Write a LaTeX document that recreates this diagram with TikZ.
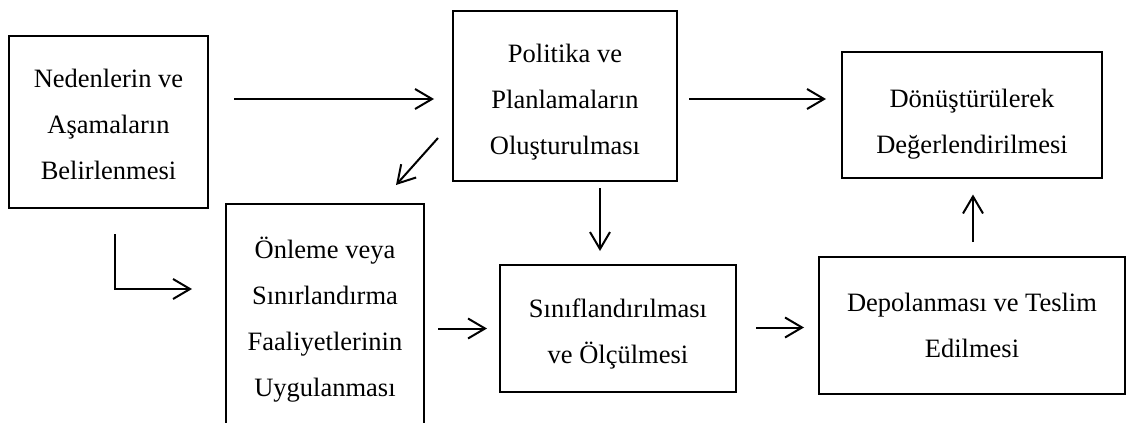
\documentclass[tikz,border=0pt]{standalone}
\usepackage{fontspec}
\setmainfont{Liberation Serif}
\usepackage{tikz}
\usetikzlibrary{arrows.meta, positioning, calc}

\newcommand{\lift}[1]{\rule{0pt}{#1}}

\tikzset{
  stage/.style={draw=black, line width=1pt, align=center, inner sep=0pt,
    font=\fontsize{13.25}{23}\selectfont},
  flow/.style={line width=1pt, -{Straight Barb[length=8.5pt,width=10pt]}}
}

\begin{document}
\begin{tikzpicture}[x=0.5pt, y={(0pt,-0.5pt)}]
\useasboundingbox (0,0) rectangle (1126,423);

% boxes
\node[stage, minimum width=99.5pt, minimum height=86pt] (nedenler) at (108.5,122)
  {\lift{12pt}Nedenlerin ve\\ Aşamaların\\ Belirlenmesi};
\node[stage, minimum width=112pt, minimum height=85pt] (politika) at (565,96)
  {\lift{15.5pt}Politika ve\\ Planlamaların\\ Oluşturulması};
\node[stage, minimum width=130pt, minimum height=63pt] (donusum) at (972,114.5)
  {\lift{18.5pt}Dönüştürülerek\\ Değerlendirilmesi};
\node[stage, minimum width=99pt, minimum height=112pt] (onleme) at (325,316)
  {\lift{14.5pt}Önleme veya\\ Sınırlandırma\\ Faaliyetlerinin\\ Uygulanması};
\node[stage, minimum width=118pt, minimum height=63.5pt] (sinif) at (618,328.5)
  {\lift{15pt}Sınıflandırılması\\ ve Ölçülmesi};
\node[stage, minimum width=153pt, minimum height=68.5pt] (depo) at (972,325.5)
  {Depolanması ve Teslim\\ Edilmesi};

% arrows
\draw[flow] ($(nedenler.east |- politika.west)+(25,3)$) -- ($(politika.west)+(-18,3)$);
\draw[flow] ($(politika.east)+(11,3)$) -- ($(politika.east -| donusum.west)+(-15,3)$);
\draw[flow] ($(politika.south west)+(-14,-44)$) -- ($(onleme.north east)+(-29,-18)$);
\draw[flow] ($(politika.south)+(35,6)$) -- ($(sinif.north)+(-18,-13)$);
\draw[flow] ($(nedenler.south)+(6,25)$) |- ($(onleme.west)+(-33,-27)$);
\draw[flow] ($(onleme.east |- sinif.west)+(13,0)$) -- ($(sinif.west)+(-12,0)$);
\draw[flow] ($(sinif.east)+(19,-1)$) -- ($(depo.west |- sinif.east)+(-14,-1)$);
\draw[flow] ($(depo.north)+(1,-14)$) -- ($(donusum.south)+(1,16)$);
\end{tikzpicture}
\end{document}
